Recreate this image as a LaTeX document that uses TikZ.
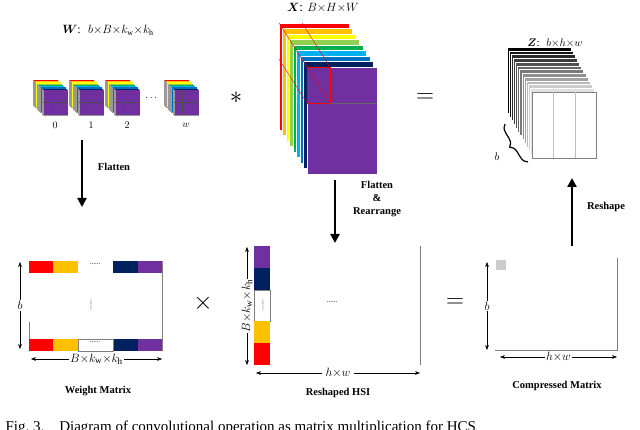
\documentclass[tikz,border=0pt]{standalone}
\usepackage{amsmath}
\usepackage{fontspec}
\setmainfont{Liberation Serif}
\usetikzlibrary{arrows.meta,decorations.pathreplacing}
\definecolor{cR}{RGB}{255,0,0}\definecolor{cO}{RGB}{255,192,0}\definecolor{cY}{RGB}{255,255,0}
\definecolor{cLG}{RGB}{146,208,80}\definecolor{cG}{RGB}{0,176,80}\definecolor{cC}{RGB}{0,176,240}
\definecolor{cB}{RGB}{0,112,192}\definecolor{cN}{RGB}{0,32,96}\definecolor{cP}{RGB}{112,48,160}
\tikzset{bigarrow/.style={line width=2.4pt,-{Triangle[length=9pt,width=9pt]}},
 dimarrow/.style={thin,{Stealth[length=5pt]}-{Stealth[length=5pt]}},
 lbl/.style={font=\bfseries\fontsize{10.5}{11}\selectfont,align=center},
 dimtxt/.style={font=\fontsize{13}{14}\selectfont}}
\begin{document}
\begin{tikzpicture}[x=1pt,y=-1pt]
\useasboundingbox (0,0) rectangle (640,430);
\clip (0,0) rectangle (640,430);
% small kernels
\foreach \x/\t in {33/0,69/1,105/2,164/w}{
 \foreach \c [count=\k] in {cR,cO,cY,cLG,cG,cC,cB,cN,cP}{
  \pgfmathsetmacro{\o}{(\k-1)*1.25}
  \fill[\c] (\x+\o,80+\o) rectangle +(25,25);
  \draw[black!40,line width=0.2pt] (\x+\o,80+\o) -- ++(0,25) -- ++(25,0);}
 \draw[black!70,thin] (\x+18,90) -- (\x+18,115) (\x+10,102) -- (\x+35,102);
 \node[font=\fontsize{10}{11}\selectfont] (k\t) at (\x+22,125) {$\t$};}
\node[font=\fontsize{10}{11}\selectfont] (kd) at (152,98) {$\cdots$};
\node[font=\fontsize{12}{13}\selectfont] (Wl) at (108,30) {$\boldsymbol{W}$:\; $b{\times}B{\times}k_{\mathrm w}{\times}k_{\mathrm h}$};
\node[font=\fontsize{30}{30}\selectfont] (star) at (236,98) {$*$};
% big X cube
\foreach \c [count=\k] in {cR,cO,cY,cLG,cG,cC,cB,cN,cP}{
  \pgfmathsetmacro{\ox}{(\k-1)*3.5}\pgfmathsetmacro{\oy}{(\k-1)*5.5}
  \fill[\c] (279+\ox,23+\oy) rectangle +(70,107);
  \draw[white,line width=0.3pt] (279+\ox,23+\oy) rectangle +(70,107);}
\draw[red,thin] (307,67) rectangle (330,103);
\draw[red,thin] (279,23)--(307,67) (302,23)--(330,67) (279,59)--(307,103) (302,59)--(330,103);
\draw[black!60,thin] (330,103)--(377,103);
\node[font=\fontsize{13}{14}\selectfont] (Xl) at (323,8) {$\boldsymbol{X}$: $B{\times}H{\times}W$};
\node[font=\fontsize{26}{26}\selectfont] (eq1) at (425,98) {$=$};
% Z cube
\foreach \k in {0,...,12}{
  \fill[black!\the\numexpr100-\k*8\relax!white] (507+\k*2.1,47+\k*3.75) rectangle +(64,66);
  \draw[white,line width=0.3pt] (507+\k*2.1,47+\k*3.75) rectangle +(64,66);}
\fill[white] (532.2,92) rectangle (596.2,158);
\draw[black!50,very thin] (532.2,92) rectangle (596.2,158);
\draw[black!25,very thin] (553,92)--(553,158) (575,92)--(575,158);
\draw[decorate,decoration={brace,amplitude=8pt},line width=1.2pt] (528,162) -- (505,124);
\node[font=\fontsize{11}{12}\selectfont] (Zb) at (497,157) {$b$};
\node[font=\fontsize{11}{12}\selectfont] (Zl) at (555,43) {$\boldsymbol{Z}$:\; $b{\times}h{\times}w$};
% arrows
\coordinate (a1s) at (82,140);\coordinate (a1e) at (82,207);
\draw[bigarrow] (a1s) -- (a1e);
\node[lbl] (fl1) at (114,167) {Flatten};
\coordinate (a2s) at (335,180);\coordinate (a2e) at (335,243);
\draw[bigarrow] (a2s) -- (a2e);
\node[lbl] (fl2) at (377,199) {Flatten\\[2pt]\&\\[2pt]Rearrange};
\coordinate (a3s) at (572,246);\coordinate (a3e) at (572,178);
\draw[bigarrow] (a3s) -- (a3e);
\node[lbl] (rs) at (606,207) {Reshape};
% weight matrix
\draw[black!50] (162,261)--(162,351) (29,322)--(29,339);
\foreach \y in {261,339}{
 \fill[cR] (29,\y) rectangle (53,\y+12);\fill[cO] (53,\y) rectangle (78,\y+12);
 \fill[cN] (113,\y) rectangle (138,\y+12);\fill[cP] (138,\y) rectangle (162,\y+12);}
\draw[black!50,very thin] (78,339) rectangle (113,351);
\node[font=\scriptsize] (wd1) at (95,264) {......};
\node[font=\scriptsize] (wd3) at (95,342) {......};
\node[font=\scriptsize,rotate=90] (wd2) at (91,305) {......};
\coordinate (wb1) at (20,262);\coordinate (wb2) at (20,349);
\draw[dimarrow] (wb1) -- node[fill=white,inner sep=1pt,dimtxt] {$b$} (wb2);
\coordinate (wr1) at (31,359);\coordinate (wr2) at (162,359);
\draw[dimarrow] (wr1) -- node[fill=white,inner sep=1pt,dimtxt] {$B{\times}k_{\mathrm w}{\times}k_{\mathrm h}$} (wr2);
\node[lbl] (wm) at (98,391) {Weight Matrix};
\node[font=\fontsize{28}{28}\selectfont] (times) at (203,303) {$\times$};
% reshaped HSI
\draw[black!50] (420,246)--(420,365);
\fill[cP] (254,246) rectangle (270,268);\fill[cN] (254,268) rectangle (270,290);
\draw[black!50,very thin] (254,290) rectangle (270,321);
\fill[cO] (254,321) rectangle (270,343);\fill[cR] (254,343) rectangle (270,365);
\node[font=\scriptsize,rotate=90] (rd1) at (263,305) {......};
\node[font=\scriptsize] (rd2) at (332,302) {......};
\coordinate (rb1) at (247,247);\coordinate (rb2) at (247,365);
\draw[dimarrow] (rb1) -- node[fill=white,inner sep=1pt,rotate=90,dimtxt] {$B{\times}k_{\mathrm w}{\times}k_{\mathrm h}$} (rb2);
\coordinate (rr1) at (256,373);\coordinate (rr2) at (420,373);
\draw[dimarrow] (rr1) -- node[fill=white,inner sep=4pt,dimtxt] {$h{\times}w$} (rr2);
\node[lbl] (rh) at (338,393) {Reshaped HSI};
\node[font=\fontsize{26}{26}\selectfont] (eq2) at (455,303) {$=$};
% compressed matrix
\draw[black!50] (617,258)--(617,350)--(495,350);
\fill[black!20] (496,260) rectangle (506,270);
\coordinate (cb1) at (487,262);\coordinate (cb2) at (487,350);
\draw[dimarrow] (cb1) -- node[fill=white,inner sep=1pt,dimtxt] {$b$} (cb2);
\coordinate (cr1) at (500,357);\coordinate (cr2) at (617,357);
\draw[dimarrow] (cr1) -- node[fill=white,inner sep=1pt,font=\fontsize{12}{13}\selectfont] {$h{\times}w$} (cr2);
\node[lbl] (cm) at (557,386) {Compressed Matrix};
% caption
\node[anchor=west,font=\fontsize{15}{16}\selectfont] (capt) at (2,428) {Fig.~3.\quad Diagram of convolutional operation as matrix multiplication for HCS};
\end{tikzpicture}
\end{document}
